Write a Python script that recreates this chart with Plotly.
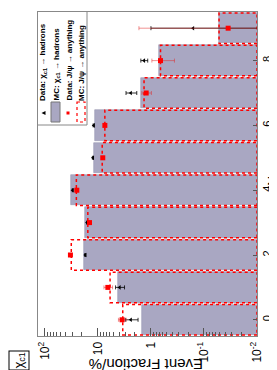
import plotly.graph_objects as go

# ---- data ----
n_ch = [0, 1, 2, 3, 4, 5, 6, 7, 8, 9]
mc_chic1 = [1.48, 4.2, 18.3, 17.8, 31.8, 12.0, 11.2, 1.56, 0.71, 0.052]
mc_jpsi = [3.4, 5.9, 31.8, 15.5, 25.5, 8.3, 7.4, 1.35, 0.66, 0.052]
data_chic1 = [2.4, 3.9, 17.3, 16.0, 30.0, 12.4, 12.0, 2.4, 1.35, 0.16]
data_chic1_err = [0.65, 0.75, 0.4, 0.4, 0.5, 0.3, 0.3, 0.55, 0.2, 0.84]
data_jpsi = [3.5, 6.5, 33.0, 14.4, 25.0, 8.1, 7.4, 1.23, 0.66, 0.035]
data_jpsi_err = [0.6, 1.2, 0.3, 0.3, 0.3, 0.2, 0.2, 0.25, 0.3, 1.65]
frac_tickvals = [100, 10, 1, 0.1, 0.01]
frac_ticktext = ["10<sup>2</sup>", "10", "1", "10<sup>-1</sup>", "10<sup>-2</sup>"]
n_tickvals = [0, 2, 4, 6, 8]

W, H = 277, 370
ML, MR, MT, MB = 30, 28, 4, 42
PW, PH = W - ML - MR, H - MT - MB
FONT = "Liberation Sans, Arial, sans-serif"
BAR_COL = "#a9a7c2"
X_EDGE = 0.01


def px(x):
    return (x - ML) / PW


def py(y):
    return 1 - (y - MT) / PH


fig = go.Figure()

fig.add_trace(go.Bar(
    x=mc_chic1, y=n_ch, orientation="h", width=0.94,
    marker=dict(color=BAR_COL, line=dict(color="#9896b0", width=0.6)),
    showlegend=False,
))

# red dotted boxes (MC J/psi)
bx, by = [], []
hw = 0.47
for n, v in zip(n_ch, mc_jpsi):
    bx += [X_EDGE, v, v, X_EDGE, X_EDGE, None]
    by += [n - hw, n - hw, n + hw, n + hw, n - hw, None]
fig.add_trace(go.Scatter(
    x=bx, y=by, mode="lines",
    line=dict(color="#ff0000", width=1.5, dash="dot"),
    showlegend=False, hoverinfo="skip",
))

# data chi_c1
cm = [min(e, v * 0.999) for v, e in zip(data_chic1, data_chic1_err)]
fig.add_trace(go.Scatter(
    x=data_chic1, y=n_ch, mode="markers",
    marker=dict(symbol="triangle-left", color="black", size=4),
    error_x=dict(type="data", array=data_chic1_err, arrayminus=cm,
                 color="black", thickness=0.8, width=2),
    showlegend=False,
))

# data J/psi
jm = [min(e, v * 0.999) for v, e in zip(data_jpsi, data_jpsi_err)]
fig.add_trace(go.Scatter(
    x=data_jpsi, y=n_ch, mode="markers",
    marker=dict(symbol="square", color="#ff0000", size=5),
    error_x=dict(type="data", array=data_jpsi_err, arrayminus=jm,
                 color="rgba(225,40,40,0.5)", thickness=1, width=2),
    showlegend=False,
))

fig.update_xaxes(
    type="log", range=[2.13, -2], side="bottom",
    tickvals=frac_tickvals, ticktext=frac_ticktext, tickangle=-90,
    ticks="inside", ticklen=8, tickcolor="#555",
    minor=dict(ticks="inside", ticklen=4, dtick="D1", tickcolor="#555", showgrid=False),
    showline=True, linecolor="#888", linewidth=1, mirror=True,
    showgrid=False, zeroline=False,
    tickfont=dict(family=FONT, size=12, color="black"),
)
fig.update_yaxes(
    range=[-0.5, 9.5], side="right",
    tickvals=n_tickvals, tickangle=-90,
    ticks="inside", ticklen=4, tickcolor="#555",
    showline=True, linecolor="#888", linewidth=1, mirror=True,
    showgrid=False, zeroline=False,
    tickfont=dict(family=FONT, size=11, color="black"),
)

shapes = []
# legend frame
shapes.append(dict(type="line", xref="paper", yref="paper", x0=px(79), x1=px(79), y0=py(4), y1=py(117),
                   line=dict(color="#888", width=1)))
shapes.append(dict(type="line", xref="paper", yref="paper", x0=px(30), x1=px(79), y0=py(117), y1=py(117),
                   line=dict(color="#888", width=1)))
# legend symbols
shapes.append(dict(type="path", xref="paper", yref="paper",
                   path=f"M {px(33.5)} {py(105)} L {px(37.5)} {py(103)} L {px(37.5)} {py(107)} Z",
                   fillcolor="black", line=dict(width=0)))
shapes.append(dict(type="rect", xref="paper", yref="paper", x0=px(43), x1=px(52), y0=py(94), y1=py(114),
                   fillcolor=BAR_COL, line=dict(color="#777", width=1)))
shapes.append(dict(type="rect", xref="paper", yref="paper", x0=px(58.5), x1=px(61.5), y0=py(103.5), y1=py(106.5),
                   fillcolor="#ff0000", line=dict(width=0)))
shapes.append(dict(type="rect", xref="paper", yref="paper", x0=px(69), x1=px(77), y0=py(94), y1=py(114),
                   fillcolor="white", line=dict(color="#ff0000", width=1.2, dash="dot")))
fig.update_layout(shapes=shapes)

ann = []
leg_txt = [
    (35, "Data: χ<sub>c1</sub> → hadrons"),
    (48, "MC: χ<sub>c1</sub> → hadrons"),
    (61, "Data: J/ψ → anything"),
    (73, "MC: J/ψ → anything"),
]
for x, t in leg_txt:
    ann.append(dict(x=px(x), y=py(95), xref="paper", yref="paper", text="<b>" + t + "</b>", showarrow=False,
                    textangle=-90, xanchor="center", yanchor="bottom",
                    font=dict(family=FONT, size=8, color="black")))
ann.append(dict(x=px(138), y=py(357), xref="paper", yref="paper", text="Event Fraction/%",
                showarrow=False, textangle=180, xanchor="center", yanchor="middle",
                font=dict(family=FONT, size=15, color="black")))
ann.append(dict(x=px(266), y=py(168), xref="paper", yref="paper", text="N<sub>ch</sub>",
                showarrow=False, textangle=-90, xanchor="center", yanchor="middle",
                font=dict(family=FONT, size=14, color="black")))
ann.append(dict(x=px(11.5), y=py(353), xref="paper", yref="paper", text="χ<sub>c1</sub>",
                showarrow=False, textangle=-90, xanchor="center", yanchor="middle",
                bordercolor="black", borderwidth=1, borderpad=1,
                font=dict(family=FONT, size=13, color="black")))
fig.update_layout(annotations=ann)

fig.update_layout(
    width=W, height=H,
    margin=dict(l=ML, r=MR, t=MT, b=MB),
    paper_bgcolor="white", plot_bgcolor="white",
    bargap=0, showlegend=False,
)

fig.write_html("out.html")
